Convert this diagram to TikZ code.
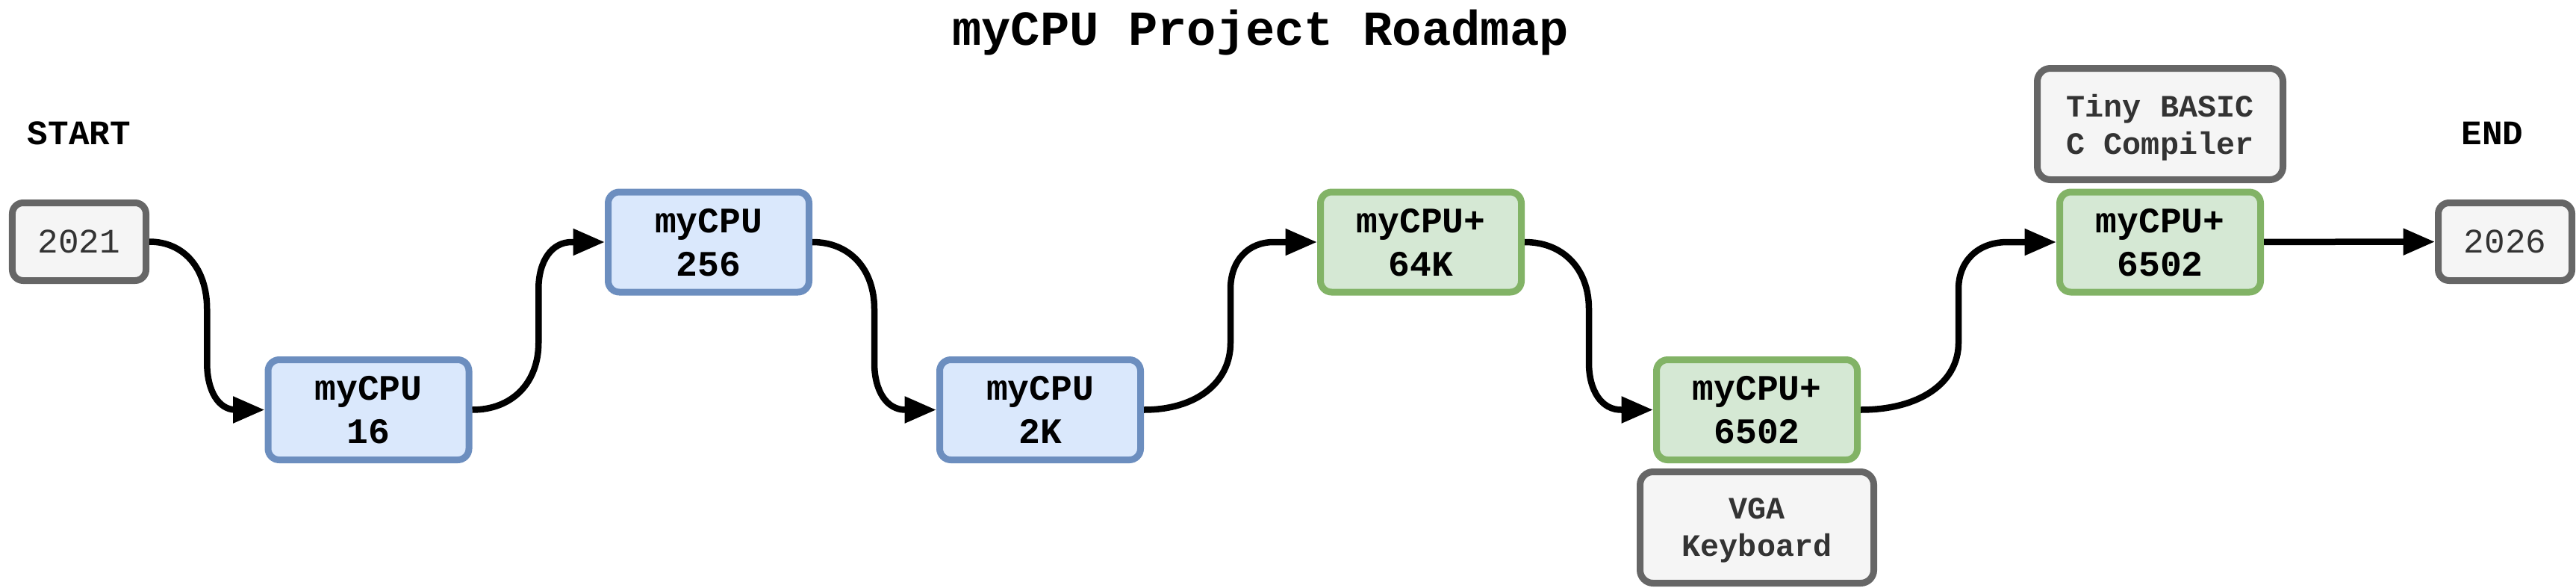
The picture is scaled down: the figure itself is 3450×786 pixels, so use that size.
\documentclass[tikz,border=0pt]{standalone}
\usepackage{fontspec}
\newfontfamily\courfont{Liberation Mono}
\usetikzlibrary{arrows.meta,calc}
\definecolor{bluefill}{HTML}{DAE8FC}
\definecolor{bluedraw}{HTML}{6C8EBF}
\definecolor{greenfill}{HTML}{D5E8D4}
\definecolor{greendraw}{HTML}{82B366}
\definecolor{grayfill}{HTML}{F5F5F5}
\definecolor{graydraw}{HTML}{666666}
\definecolor{graytext}{HTML}{333333}
\newcommand\scurve[2]{%
  \draw[conn] let \p1=(#1.east), \p2=(#2.west),
    \p3=($(\p1)!0.5!(\p2)$), \p4=($(\p1)!0.4!(\p2)$),
    \p5=($(\p1)!0.72!(\p2)$), \p6=($(\p3)!0.5!(\p2)$) in
    (\p1) .. controls ($(\p1)!0.6!(\x3,\y1)$) and ($(\x3,\y4)!0.6!(\x3,\y1)$) .. (\x3,\y4)
    -- (\x3,\y5)
    .. controls ($(\x3,\y5)!0.6!(\x3,\y2)$) and ($(\x6,\y2)!0.6!(\x3,\y2)$) .. (\x6,\y2)
    -- (\p2);}
\tikzset{
  box/.style={rectangle, line width=1.8pt, inner sep=0pt, align=center, text depth=0pt},
  mainbox/.style={box, rounded corners=3pt, minimum width=53.8pt, minimum height=26.8pt,
    font=\courfont\bfseries\fontsize{9.6}{11.6}\selectfont, text=black},
  bluebox/.style={mainbox, fill=bluefill, draw=bluedraw},
  greenbox/.style={mainbox, fill=greenfill, draw=greendraw},
  yearbox/.style={box, rounded corners=2.9pt, fill=grayfill, draw=graydraw, text=graytext,
    minimum width=35.8pt, minimum height=20.8pt,
    font=\courfont\fontsize{9.2}{11}\selectfont},
  infobox/.style={box, rounded corners=3.5pt, fill=grayfill, draw=graydraw, text=graytext,
    minimum height=29.8pt, font=\courfont\bfseries\fontsize{8.35}{10}\selectfont},
  label/.style={inner sep=0pt, anchor=base, font=\courfont\bfseries\fontsize{9.2}{11}\selectfont},
  conn/.style={line width=1.7pt, -{Triangle[length=8.5pt,width=6.8pt]}}
}
\begin{document}
\begin{tikzpicture}[x=0.2pt,y=-0.2pt]
\useasboundingbox (0,0) rectangle (3450,786);
\node[inner sep=0pt, anchor=base, font=\courfont\bfseries\fontsize{13.1}{15}\selectfont] (title) at (1688,61) {myCPU Project Roadmap};
\node[label] (start) at (106,193) {START};
\node[label] (end) at (3338,193) {END};
\node[yearbox] (y2021) at (106,323.5) {2021};
\node[yearbox] (y2026) at (3355,323.5) {2026};
\node[bluebox] (c16) at (493.5,548.5) {myCPU\\16};
\node[bluebox] (c256) at (949,324) {myCPU\\256};
\node[bluebox] (c2k) at (1393,548.5) {myCPU\\2K};
\node[greenbox] (c64k) at (1903,324) {myCPU+\\64K};
\node[greenbox] (c6502a) at (2353,548.5) {myCPU+\\6502};
\node[greenbox] (c6502b) at (2893,324) {myCPU+\\6502};
\node[infobox, minimum width=65.8pt] (tiny) at (2893,166) {Tiny BASIC\\C Compiler};
\node[infobox, minimum width=62.6pt] (vga) at (2353,706) {VGA\\Keyboard};
\scurve{y2021}{c16}
\scurve{c16}{c256}
\scurve{c256}{c2k}
\scurve{c2k}{c64k}
\scurve{c64k}{c6502a}
\scurve{c6502a}{c6502b}
\draw[conn] (c6502b) -- (y2026);
\end{tikzpicture}
\end{document}
